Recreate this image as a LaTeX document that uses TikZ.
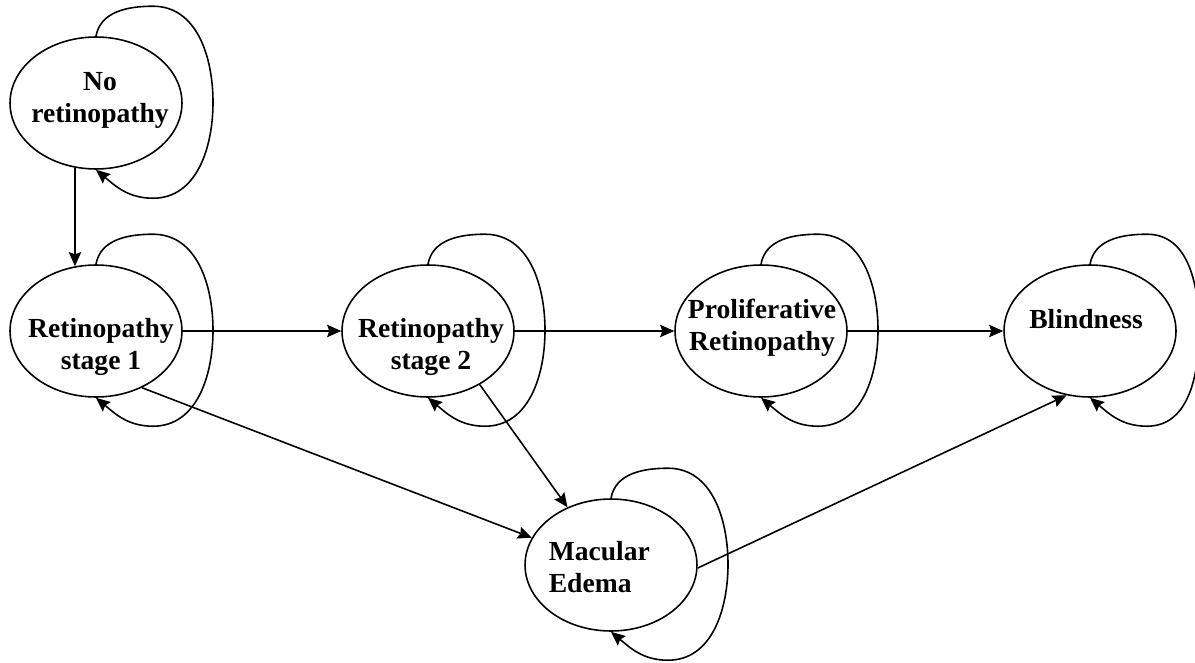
\documentclass[tikz,border=0pt]{standalone}
\usepackage{fontspec}
\setmainfont{Liberation Serif}
\usepackage{tikz}
\usetikzlibrary{shapes.geometric}
\usetikzlibrary{arrows.meta}

\begin{document}
\begin{tikzpicture}[x=0.02cm,y=0.02cm,line width=0.9pt,
    >={Stealth[length=8pt,width=7pt,inset=1.2pt]},
    state/.style={draw,ellipse,minimum width=3.44cm,minimum height=2.64cm,inner sep=0pt},
    statetext/.style={inner sep=0pt,align=center,font=\bfseries\fontsize{15.7}{18.2}\selectfont}]
            \useasboundingbox (0,0) rectangle (1195,-662);
            % States
            \node[state] (s0) at (96,-103) {};
            \node[state] (s1) at (96,-331) {};
            \node[state] (s2) at (428,-331) {};
            \node[state] (pr) at (761,-331) {};
            \node[state] (bl) at (1090,-331) {};
            \node[state] (me) at (611,-565) {};
            % State names
            \node[statetext] (s0t) at (100,-100) {No\\retinopathy};
            \node[statetext] (s1t) at (101,-347) {Retinopathy\\stage 1};
            \node[statetext] (s2t) at (431,-347) {Retinopathy\\stage 2};
            \node[statetext] (prt) at (762,-328) {Proliferative\\Retinopathy};
            \node[statetext,anchor=base] (blt) at (1086,-328) {Blindness};
            \node[statetext,align=left,anchor=west] (met) at (548,-567) {Macular\\Edema};
            % Transitions
            \draw[->] (s0.252) -- (s1.108);
            \draw[->] (s1.east) -- (s2.west);
            \draw[->] (s2.east) -- (pr.west);
            \draw[->] (pr.east) -- (bl.west);
            \draw[->] (s1.-51) -- (me.161);
            \draw[->] (s2.-46) -- (me.127);
            \draw[->] (me.-2) -- (bl.250);
            % Self loops
            \draw[->] (s0.north) to[out=80,in=180] ++(57,30) to[out=0,in=90] ++(60,-96) to[out=-90,in=0] ++(-60,-96) to[out=180,in=-40] (s0.south);
            \draw[->] (s1.north) to[out=80,in=180] ++(57,30) to[out=0,in=90] ++(60,-96) to[out=-90,in=0] ++(-60,-96) to[out=180,in=-40] (s1.south);
            \draw[->] (s2.north) to[out=80,in=180] ++(57,30) to[out=0,in=90] ++(60,-96) to[out=-90,in=0] ++(-60,-96) to[out=180,in=-40] (s2.south);
            \draw[->] (pr.north) to[out=80,in=180] ++(57,30) to[out=0,in=90] ++(60,-96) to[out=-90,in=0] ++(-60,-96) to[out=180,in=-40] (pr.south);
            \draw[->] (bl.north) to[out=80,in=180] ++(57,30) to[out=0,in=90] ++(52,-96) to[out=-90,in=0] ++(-52,-96) to[out=180,in=-40] (bl.south);
            \draw[->] (me.north) to[out=80,in=180] ++(57,30) to[out=0,in=90] ++(60,-96) to[out=-90,in=0] ++(-60,-96) to[out=180,in=-40] (me.south);
\end{tikzpicture}
\end{document}
